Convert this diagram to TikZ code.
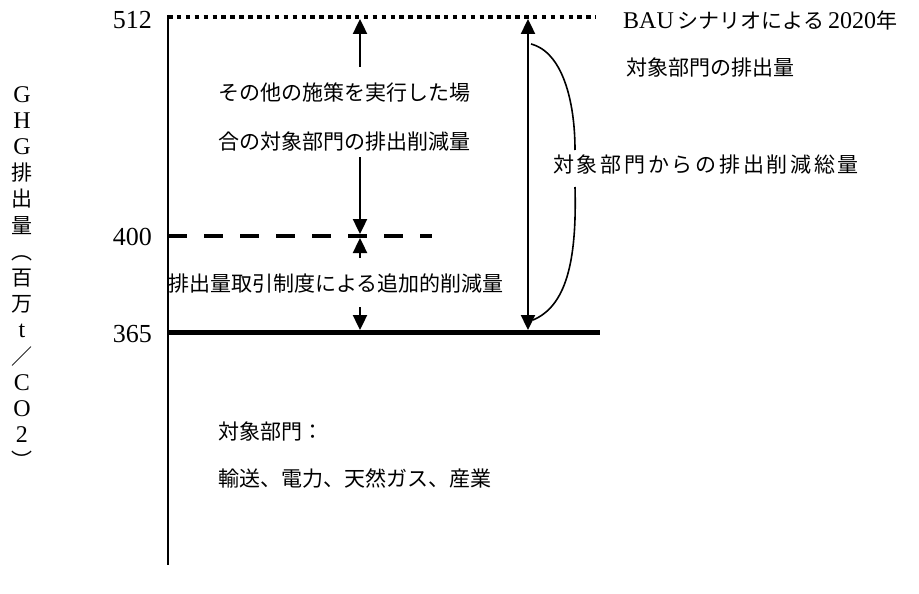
\documentclass[tikz,border=0pt]{standalone}
\usepackage{fontspec}
\setmainfont{Liberation Serif}
\newfontfamily\jp{Noto Sans CJK JP}
\newfontfamily\jpwide[LetterSpace=13]{Noto Sans CJK JP}
\usetikzlibrary{arrows.meta}
\begin{document}
\begin{tikzpicture}[x=1pt,y=-1pt,
  jtext/.style={font=\jp\fontsize{21}{30}\selectfont, inner sep=0pt, anchor=west},
  numlab/.style={font=\fontsize{26}{26}\selectfont, inner sep=0pt, anchor=east},
  arr/.style={line width=2.4pt, -{Triangle[width=14pt,length=15pt]}},
  darr/.style={line width=2.4pt, {Triangle[width=14pt,length=15pt]}-{Triangle[width=14pt,length=15pt]}},
  brace/.style={line width=1.6pt},
]
\useasboundingbox (0,0) rectangle (919,594);

% axis
\coordinate (axtop) at (168,15);
\coordinate (axbot) at (168,565);
\draw[line width=2.5pt] (axtop) -- (axbot);

% level lines
\coordinate (l512s) at (168,17);
\coordinate (l512e) at (596,17);
\draw[line width=4.5pt, dash pattern=on 4.5pt off 4.4pt] (l512s) -- (l512e);
\coordinate (l400s) at (168,236);
\coordinate (l400e) at (432,236);
\draw[line width=4pt, dash pattern=on 19pt off 17pt] (l400s) -- (l400e);
\coordinate (l365s) at (168,332);
\coordinate (l365e) at (600,332);
\draw[line width=5pt] (l365s) -- (l365e);

% value labels
\node[numlab] (v512) at (152,20) {512};
\node[numlab] (v400) at (152,237) {400};
\node[numlab] (v365) at (152,334) {365};

% vertical axis title
\node[font=\fontsize{24}{26.2}\selectfont, align=center, inner sep=0pt, anchor=north] (ytitle) at (22,86)
 {G\\H\\G\\{\jp\fontsize{21}{26.2}\selectfont 排}\\{\jp\fontsize{21}{26.2}\selectfont 出}\\{\jp\fontsize{21}{26.2}\selectfont 量}\\{\jp\fontsize{21}{26.2}\selectfont ︵}\\{\jp\fontsize{21}{26.2}\selectfont 百}\\{\jp\fontsize{21}{26.2}\selectfont 万}\\t\\{\jp\fontsize{21}{26.2}\selectfont ／}\\C\\O\\2\\{\jp\fontsize{21}{26.2}\selectfont ︶}};

% texts
\node[jtext] (t1) at (218,93) {その他の施策を実行した場};
\node[jtext] (t2) at (218,142) {合の対象部門の排出削減量};
\node[jtext] (t3) at (168,283) {排出量取引制度による追加的削減量};
\node[jtext, font=\jpwide\fontsize{21}{30}\selectfont] (t4) at (553,165) {対象部門からの排出削減総量};
\node[jtext, font=\fontsize{24}{24}\selectfont] (t5) at (623,20) {BAU\,{\jp\fontsize{21}{21}\selectfont シナリオによる}\,2020{\jp\fontsize{21}{21}\selectfont 年}};
\node[jtext] (t6) at (626,68) {対象部門の排出量};
\node[jtext] (t7) at (218,432) {対象部門：};
\node[jtext] (t8) at (218,478) {輸送、電力、天然ガス、産業};

% arrows on x=360
\coordinate (a1s) at (360,67);
\coordinate (a1e) at (360,19);
\draw[arr] (a1s) -- (a1e);
\coordinate (a2s) at (360,157);
\coordinate (a2e) at (360,234);
\draw[arr] (a2s) -- (a2e);
\coordinate (a3s) at (360,258);
\coordinate (a3e) at (360,238);
\draw[arr] (a3s) -- (a3e);
\coordinate (a4s) at (360,307);
\coordinate (a4e) at (360,330);
\draw[arr] (a4s) -- (a4e);

% total arrow
\coordinate (b1) at (528,19);
\coordinate (b2) at (528,330);
\draw[darr] (b1) -- (b2);

% brace-like curve
\coordinate (c1) at (531,44);
\coordinate (c2) at (575,150);
\coordinate (c3) at (575,187);
\coordinate (c4) at (533,320);
\draw[brace] (c1) .. controls (562,52) and (575,100) .. (c2);
\draw[brace] (c3) .. controls (577,262) and (566,306) .. (c4);
\end{tikzpicture}
\end{document}
